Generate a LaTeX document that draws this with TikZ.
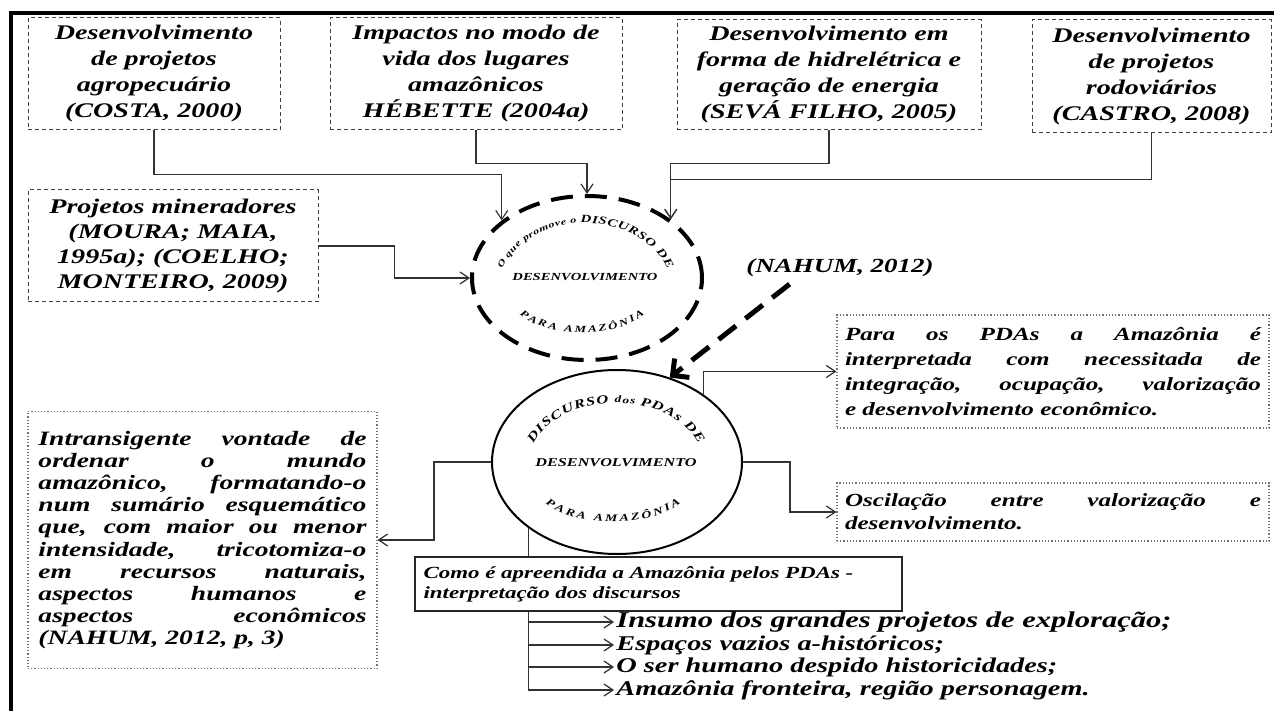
\documentclass[tikz,border=0pt]{standalone}
\usepackage{fontspec}
\setmainfont{Liberation Serif}[FakeStretch=1.35]
\usetikzlibrary{arrows.meta,shapes.geometric,decorations.text,calc}
\setlength{\lineskiplimit}{-20pt}
\newcommand{\bfit}{\bfseries\itshape}

\begin{document}
\begin{tikzpicture}[x=0.5pt,y=-0.5pt,
  src/.style={draw=black!75,dash pattern=on 2pt off 1.5pt,line width=0.5pt,align=center,inner sep=0pt,font=\fontsize{10.4}{13}\selectfont\bfit},
  note/.style={draw=black!55,densely dotted,line width=0.6pt,align=justify,inner sep=0pt,font=\fontsize{9.3}{12.5}\selectfont\bfit},
  conn/.style={draw=black!80,line width=0.6pt,-{Straight Barb[length=4.5pt,width=6pt]}},
  item/.style={anchor=west,inner sep=1pt,font=\fontsize{10.5}{11}\selectfont\bfit}]
\useasboundingbox (0,0) rectangle (1274,711);
\draw[line width=2pt] (11,711) -- (11,13) -- (1274,13);

% fontes
\node[src,minimum width=126pt,minimum height=56pt] (agro) at (154,74) {Desenvolvimento\\de projetos\\agropecuário\\(COSTA, 2000)};
\node[src,minimum width=146pt,minimum height=56pt] (impact) at (476,74) {Impactos no modo de\\vida dos lugares\\amazônicos\\HÉBETTE (2004a)};
\node[src,minimum width=152pt,minimum height=55pt] (hidro) at (829,75) {Desenvolvimento em\\forma de hidrelétrica e\\geração de energia\\(SEVÁ FILHO, 2005)};
\node[src,minimum width=119.5pt,minimum height=56.5pt] (rodo) at (1151.5,76.5) {Desenvolvimento\\de projetos\\rodoviários\\(CASTRO, 2008)};
\node[src,minimum width=145pt,minimum height=56pt,font=\fontsize{10.4}{12.5}\selectfont\bfit] (miner) at (173,246) {Projetos mineradores\\(MOURA; MAIA,\\1995a); (COELHO;\\MONTEIRO, 2009)};

% circulos
\node[ellipse,draw,line width=2pt,dash pattern=on 11pt off 6pt,minimum width=115pt,minimum height=82pt,inner sep=0pt] (disc1) at (587,278) {};
\node[ellipse,draw,line width=1pt,minimum width=125pt,minimum height=92pt,inner sep=0pt] (disc2) at (617,462) {};

\path[decorate,decoration={text along path,text align=fit to path,text={|\fontsize{4.4}{5}\selectfont\bfit|O que promove o |\fontsize{5.5}{6}\selectfont\bfit|DISCURSO DE}}]
  (disc1.center) ++(-2,15) ++(200:88 and 70) arc[start angle=200,end angle=340,x radius=88,y radius=70];
\node[font=\fontsize{5.4}{6}\selectfont\bfit] (disc1txt) at (585,277) {DESENVOLVIMENTO};
\path[decorate,decoration={text along path,text align=fit to path,text={|\fontsize{4.8}{5}\selectfont\bfit|PARA AMAZÔNIA}}]
  (disc1.center) ++(-5,17) ++(150:72 and 38) arc[start angle=150,end angle=30,x radius=72,y radius=38];

\path[decorate,decoration={text along path,text align=fit to path,text={|\fontsize{6.1}{7}\selectfont\bfit|DISCURSO |\fontsize{4.9}{6}\selectfont\bfit|dos |\fontsize{6.1}{7}\selectfont\bfit|PDAs DE}}]
  (disc2.center) ++(-1,3) ++(200:88 and 62) arc[start angle=200,end angle=340,x radius=88,y radius=62];
\node[font=\fontsize{6}{7}\selectfont\bfit] (disc2txt) at (616,463) {DESENVOLVIMENTO};
\path[decorate,decoration={text along path,text align=fit to path,text={|\fontsize{5.1}{6}\selectfont\bfit|PARA AMAZÔNIA}}]
  (disc2.center) ++(-4,22) ++(150:78 and 38) arc[start angle=150,end angle=30,x radius=78,y radius=38];

\node[font=\fontsize{10}{12}\selectfont\bfit] (nahum) at (840,268) {(NAHUM, 2012)};
\draw[line width=2.5pt,dash pattern=on 11pt off 6pt,-{Straight Barb[length=6pt,width=12pt]}] ($(nahum.south west)!0.25!(nahum.south east)$) -- (disc2.58);

% caixas de leitura
\node[note,text width=208pt,minimum width=216pt,minimum height=56.5pt] (para) at (1053,371.5) {Para os PDAs a Amazônia é\linebreak interpretada com necessitada de\linebreak integração, ocupação, valorização\linebreak e desenvolvimento econômico.};
\node[note,text width=208pt,minimum width=216pt,minimum height=29pt,font=\fontsize{9.3}{11.5}\selectfont\bfit] (osc) at (1053,512) {Oscilação entre valorização e\linebreak desenvolvimento.};
\node[note,text width=164pt,minimum width=174.5pt,minimum height=128.5pt,font=\fontsize{10.2}{11.1}\selectfont\bfit] (intr) at (202.5,540) {Intransigente vontade de\linebreak ordenar o mundo\linebreak amazônico, formatando-o\linebreak num sumário esquemático\linebreak que, com maior ou menor\linebreak intensidade, tricotomiza-o\linebreak em recursos naturais,\linebreak aspectos humanos e\linebreak aspectos econômicos\linebreak (NAHUM, 2012, p, 3)};
\node[draw=black!85,line width=0.6pt,align=left,text width=235pt,minimum width=243.5pt,minimum height=27pt,inner sep=0pt,font=\fontsize{8.5}{10}\selectfont\bfit] (como) at (658.5,584) {Como é apreendida a Amazônia pelos PDAs -\\interpretação dos discursos};

\node[item,font=\fontsize{11.3}{12}\selectfont\bfit] (ins) at (614,622) {Insumo dos grandes projetos de exploração;};
\node[item] (esp) at (614,645) {Espaços vazios a-históricos;};
\node[item] (ser) at (614,667) {O ser humano despido historicidades;};
\node[item] (fro) at (614,690) {Amazônia fronteira, região personagem.};

% ligacoes
\draw[conn] (agro.south) -- ++(0,44) -| (disc1.146);
\draw[conn] (impact.south) -- ++(0,33) -| (disc1.north);
\draw[conn] (hidro.south) -- ++(0,33) -| (disc1.35);
\draw[conn] (rodo.south) -- ++(0,46) -| (disc1.35);
\draw[conn] (miner.east) -- ++(76,0) |- (disc1.west);
\draw[conn] (disc2.38) |- (para.west);
\draw[conn] (disc2.east) -- ++(47,0) |- (osc.west);
\draw[conn] (disc2.west) -- ++(-57,0) |- (intr.east);
\draw[draw=black!80,line width=0.6pt] (disc2.217) -- (disc2.217 |- como.north);
\foreach \b in {ins,esp,ser,fro}
  \draw[conn] (disc2.217 |- como.south) |- (\b.west);
\end{tikzpicture}
\end{document}
